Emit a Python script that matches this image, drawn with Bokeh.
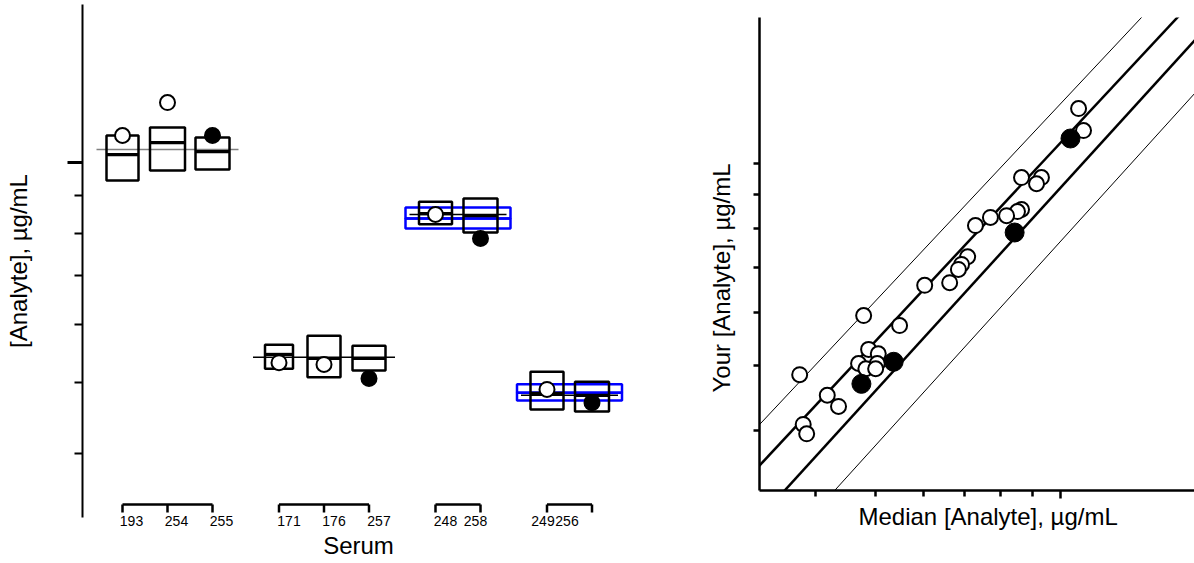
import math
from bokeh.plotting import figure
from bokeh.models import Range1d, FixedTicker, ColumnDataSource, AllLabels, LinearScale, Title
from bokeh.layouts import row
from bokeh.embed import file_html
from bokeh.resources import INLINE

FONT = "Liberation Sans"

# ---------------- data: left panel (per serum) ----------------
sera = ["193", "254", "255", "171", "176", "257", "248", "258", "249", "256"]
serum_group = [0, 0, 0, 1, 1, 1, 2, 2, 3, 3]
box_low = [9.45, 9.75, 9.78, 5.22, 5.08, 5.19, 8.23, 8.02, 4.59, 4.56]
box_high = [10.89, 11.17, 10.82, 5.63, 5.79, 5.61, 8.84, 8.93, 5.17, 5.01]
box_median = [10.25, 10.65, 10.35, 5.46, 5.39, 5.39, 8.51, 8.46, 4.83, 4.80]
box_n = [32, 35, 34, 28, 33, 33, 33, 34, 33, 34]
your_result = [10.89, 12.08, 10.89, 5.32, 5.29, 5.06, 8.49, 7.87, 4.89, 4.69]
your_filled = [False, False, True, False, False, True, False, True, False, True]

# per group
group_value = [10.42, 5.41, 8.49, 4.80]
group_line_color = ["#808080", "black", "black", "black"]
band_group = [2, 3]
band_low = [8.12, 4.72]
band_mid = [8.38, 4.84]
band_high = [8.68, 4.97]

# ---------------- data: right panel ----------------
others_median = [10.71, 10.91, 8.65, 9.32, 9.15, 8.65, 8.52, 8.18, 7.70, 7.28,
                 7.07, 6.91, 6.83, 6.61, 6.02, 5.48, 4.79, 4.88, 5.06, 4.70,
                 5.04, 4.83, 5.01, 3.77, 4.18, 4.36, 3.82, 3.87]
others_yours = [12.08, 11.20, 9.53, 9.53, 9.33, 8.54, 8.48, 8.36, 8.31, 8.08,
                7.26, 7.07, 6.95, 6.64, 6.58, 5.73, 5.93, 5.28, 5.20, 5.03,
                5.03, 4.94, 4.94, 4.84, 4.51, 4.34, 4.08, 3.95]
lab_median = [10.39, 8.43, 5.36, 4.75]
lab_yours = [10.90, 7.89, 5.06, 4.69]
limit_slope = [0.9784, 0.9843, 1.0077, 1.0125]
limit_offset = [0.1104, 0.0463, -0.0442, -0.1291]
limit_kind = ["outer", "inner", "inner", "outer"]

# ---------------- layout constants ----------------
STEP, GAP = 45, 21.5
LINE_EXT, BAND_EXT = 26, 30
label_nudge = [9, 9, 9, 10, 10, 10, 10, -5, -4, -25]

xpos = [STEP * i + GAP * g for i, g in enumerate(serum_group)]
ngroups = len(group_value)
g_first = [min(x for x, g in zip(xpos, serum_group) if g == k) for k in range(ngroups)]
g_last = [max(x for x, g in zip(xpos, serum_group) if g == k) for k in range(ngroups)]


def no_frame_align(p):
    try:
        p.frame_align = False
    except Exception:
        pass


# ================= LEFT FIGURE =================
H = 563
L_TOP, L_BOT = 4, 46
L_FRAME_H = H - L_TOP - L_BOT
left = figure(width=680, height=H, x_range=Range1d(-40, 512),
              y_range=Range1d(3.2648, 16.46), y_axis_type="log",
              output_backend="svg", toolbar_location=None,
              min_border_left=82, min_border_right=46, min_border_top=L_TOP,
              min_border_bottom=L_BOT)
no_frame_align(left)
left.extra_y_ranges = {"px": Range1d(0, L_FRAME_H)}
left.extra_y_scales = {"px": LinearScale()}
left.grid.visible = False
left.outline_line_color = None

# blue bands
bsrc = ColumnDataSource(dict(
    left=[g_first[g] - BAND_EXT for g in band_group] * 2,
    right=[g_last[g] + BAND_EXT for g in band_group] * 2,
    bottom=band_low + band_mid,
    top=band_mid + band_high))
left.quad(left="left", right="right", bottom="bottom", top="top", source=bsrc,
          fill_color=None, line_color="#0000FF", line_width=2.5)

# group reference lines
left.segment(x0=[g_first[k] - LINE_EXT for k in range(ngroups)],
             x1=[g_last[k] + LINE_EXT for k in range(ngroups)],
             y0=group_value, y1=group_value, line_color=group_line_color, line_width=1.5)

# boxes
half = [w / 2 for w in box_n]
left.quad(left=[x - h for x, h in zip(xpos, half)], right=[x + h for x, h in zip(xpos, half)],
          bottom=box_low, top=box_high, fill_color=None, line_color="black", line_width=2.5)
left.segment(x0=[x - h for x, h in zip(xpos, half)], x1=[x + h for x, h in zip(xpos, half)],
             y0=box_median, y1=box_median, line_color="black", line_width=3.2)

# your results
left.scatter(x=xpos, y=your_result, size=15, marker="circle",
             fill_color=["black" if f else "white" for f in your_filled],
             line_color="black", line_width=2)

# brackets for serum groups
BR_Y, BR_TICK = 13, 5
left.segment(x0=g_first, x1=g_last, y0=[BR_Y] * ngroups, y1=[BR_Y] * ngroups,
             y_range_name="px", line_color="black", line_width=2.5)
left.segment(x0=xpos, x1=xpos, y0=[BR_Y] * len(xpos), y1=[BR_TICK] * len(xpos),
             y_range_name="px", line_color="black", line_width=2.5)

# axes
ya = left.yaxis[0]
ya.ticker = FixedTicker(ticks=[10], minor_ticks=[4, 5, 6, 7, 8, 9])
ya.major_label_overrides = {10: ""}
ya.axis_line_width = 2
ya.major_tick_out = 15
ya.major_tick_in = 0
ya.minor_tick_out = 8
ya.minor_tick_in = 0
ya.major_tick_line_width = 3
ya.minor_tick_line_width = 2
ya.major_label_standoff = 0
ya.axis_label = "[Analyte], µg/mL"
ya.axis_label_standoff = 36
ya.axis_label_text_font = FONT
ya.axis_label_text_font_size = "24px"
ya.axis_label_text_font_style = "normal"
ya.axis_label_text_color = "black"

label_x = [x + n for x, n in zip(xpos, label_nudge)]
xa = left.xaxis[0]
xa.ticker = FixedTicker(ticks=label_x, minor_ticks=[])
xa.major_label_overrides = {lx: s for lx, s in zip(label_x, sera)}
xa.major_label_policy = AllLabels()
xa.axis_line_color = None
xa.major_tick_line_color = None
xa.minor_tick_line_color = None
xa.major_tick_out = 0
xa.major_tick_in = 0
xa.major_label_standoff = -2
xa.major_label_text_font = FONT
xa.major_label_text_font_size = "14px"
xa.major_label_text_color = "black"
xa.axis_label = "Serum"
xa.axis_label_standoff = 3
xa.axis_label_text_font = FONT
xa.axis_label_text_font_size = "24px"
xa.axis_label_text_font_style = "normal"
xa.axis_label_text_color = "black"

# ================= RIGHT FIGURE =================
x_lo, x_hi = 3.2434, 16.53
y_lo, y_hi = 3.2509, 16.52
R_TOP, R_BOT = 17, 73
right = figure(width=514, height=H, x_axis_type="log", y_axis_type="log",
               x_range=Range1d(x_lo, x_hi), y_range=Range1d(y_lo, y_hi),
               output_backend="svg", toolbar_location=None,
               min_border_left=79, min_border_right=0, min_border_top=R_TOP,
               min_border_bottom=R_BOT)
no_frame_align(right)
right.grid.visible = False
right.outline_line_color = None

for s, b, kind in zip(limit_slope, limit_offset, limit_kind):
    lx = [x_lo * 0.95, x_hi * 1.05]
    ly = [10 ** (s * math.log10(v) + b) for v in lx]
    right.line(lx, ly, line_color="black", line_width=1 if kind == "outer" else 2.5)

right.scatter(x=others_median, y=others_yours, size=15, marker="circle",
              fill_color="white", line_color="black", line_width=2)
right.scatter(x=lab_median, y=lab_yours, size=19, marker="circle",
              fill_color="black", line_color="black", line_width=1)

rx = right.xaxis[0]
rx.ticker = FixedTicker(ticks=[10], minor_ticks=[4, 5, 6, 7, 8, 9])
rx.major_label_overrides = {10: ""}
rx.major_label_standoff = 0
rx.axis_line_width = 2.5
rx.major_tick_out = 8
rx.major_tick_in = 0
rx.minor_tick_out = 6
rx.minor_tick_in = 0
rx.major_tick_line_width = 2.5
rx.minor_tick_line_width = 2.5

ry = right.yaxis[0]
ry.ticker = FixedTicker(ticks=[10], minor_ticks=[4, 5, 6, 7, 8, 9])
ry.major_label_overrides = {10: ""}
ry.major_label_standoff = 0
ry.axis_line_width = 2.5
ry.major_tick_out = 6
ry.major_tick_in = 0
ry.minor_tick_out = 6
ry.minor_tick_in = 0
ry.major_tick_line_width = 2.5
ry.minor_tick_line_width = 2.5

right.add_layout(Title(text="Your [Analyte], µg/mL", align="left", offset=98,
                       vertical_align="bottom", standoff=37,
                       text_font=FONT, text_font_size="24px",
                       text_font_style="normal", text_color="black"), "left")
right.add_layout(Title(text="Median [Analyte], µg/mL", align="left", offset=99,
                       vertical_align="top", standoff=8,
                       text_font=FONT, text_font_size="24px",
                       text_font_style="normal", text_color="black"), "below")

layout = row(left, right)
open("out.html", "w").write(file_html(layout, INLINE))
